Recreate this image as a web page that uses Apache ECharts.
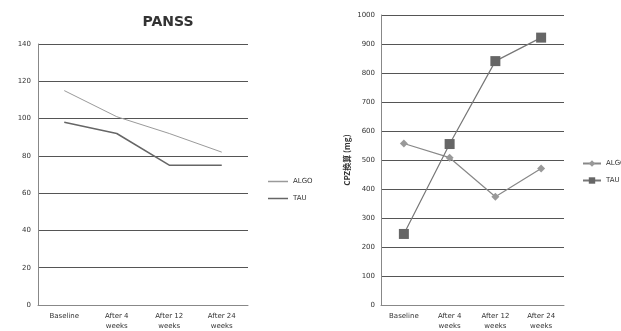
<!DOCTYPE html>
<html>
<head>
<meta charset="utf-8">
<script src="https://cdn.jsdelivr.net/npm/echarts@6/dist/echarts.min.js"></script>
<style>html,body{margin:0;padding:0;background:#fff}#c{width:621px;height:331px}</style>
</head>
<body>
<div id="c"></div>
<script>
var categories = ['Baseline', 'After 4\nweeks', 'After 12\nweeks', 'After 24\nweeks'];
var panssAlgo = [115, 101, 92, 82];
var panssTau = [98, 92, 75, 75];
var cpzAlgo = [557, 508, 373, 471];
var cpzTau = [245, 555, 841, 922];
var panssTicks = [0, 20, 40, 60, 80, 100, 120, 140];
var cpzTicks = [0, 100, 200, 300, 400, 500, 600, 700, 800, 900, 1000];

var font = 'DejaVu Sans';
var labelStyle = { fontSize: 7, color: '#333', fontFamily: font };
var chart = echarts.init(document.getElementById('c'));
chart.setOption({
  animation: false,
  backgroundColor: '#fff',
  title: {
    text: 'PANSS', left: 163, top: 10, textAlign: 'center',
    textStyle: { fontSize: 14, fontWeight: 'bold', color: '#333', fontFamily: font }
  },
  grid: [
    { left: 38, right: 373, top: 44, bottom: 26 },
    { left: 381, right: 57, top: 15, bottom: 26 }
  ],
  legend: [
    {
      data: ['ALGO', 'TAU'], orient: 'vertical', left: 263, top: 173,
      icon: 'rect', itemWidth: 20, itemHeight: 1.5, itemGap: 10,
      textStyle: { fontSize: 7, color: '#333', fontFamily: font }
    },
    {
      data: ['ALGO2', 'TAU2'], orient: 'vertical', left: 577, top: 155,
      itemWidth: 18, itemHeight: 8, itemGap: 10,
      formatter: function (n) { return n.replace('2', ''); },
      textStyle: { fontSize: 7, color: '#333', fontFamily: font }
    }
  ],
  xAxis: [
    {
      type: 'category', gridIndex: 0, data: categories, boundaryGap: true,
      axisLine: { lineStyle: { color: '#888' } }, axisTick: { show: false },
      axisLabel: Object.assign({ margin: 6, interval: 0, lineHeight: 10 }, labelStyle)
    },
    {
      type: 'category', gridIndex: 1, data: categories, boundaryGap: true,
      axisLine: { lineStyle: { color: '#888' } }, axisTick: { show: false },
      axisLabel: Object.assign({ margin: 6, interval: 0, lineHeight: 10 }, labelStyle)
    }
  ],
  yAxis: [
    {
      type: 'value', gridIndex: 0, min: panssTicks[0], max: panssTicks[panssTicks.length - 1], interval: 20,
      axisLine: { show: true, lineStyle: { color: '#888' } }, axisTick: { show: false },
      splitLine: { lineStyle: { color: '#555', width: 1 } },
      axisLabel: Object.assign({ margin: 7 }, labelStyle)
    },
    {
      type: 'value', gridIndex: 1, min: cpzTicks[0], max: cpzTicks[cpzTicks.length - 1], interval: 100,
      axisLine: { show: true, lineStyle: { color: '#888' } }, axisTick: { show: false },
      splitLine: { lineStyle: { color: '#555', width: 1 } },
      axisLabel: Object.assign({ margin: 6, formatter: function (v) { return String(v); } }, labelStyle),
      name: 'CPZ換算 (mg)', nameLocation: 'middle', nameGap: 30, nameRotate: 90,
      nameTextStyle: { fontSize: 8, fontWeight: 'bold', color: '#333', fontFamily: '"Noto Sans CJK JP", ' + font }
    }
  ],
  series: [
    {
      name: 'ALGO', type: 'line', xAxisIndex: 0, yAxisIndex: 0, data: panssAlgo,
      symbol: 'none', color: '#9a9a9a', lineStyle: { width: 1, color: '#9a9a9a' }
    },
    {
      name: 'TAU', type: 'line', xAxisIndex: 0, yAxisIndex: 0, data: panssTau,
      symbol: 'none', color: '#666', lineStyle: { width: 1.5, color: '#666' }
    },
    {
      name: 'ALGO2', type: 'line', xAxisIndex: 1, yAxisIndex: 1, data: cpzAlgo,
      symbol: 'diamond', symbolSize: 8, color: '#999',
      itemStyle: { color: '#999' }, lineStyle: { width: 1.2, color: '#888' }
    },
    {
      name: 'TAU2', type: 'line', xAxisIndex: 1, yAxisIndex: 1, data: cpzTau,
      symbol: 'rect', symbolSize: 10, color: '#666',
      itemStyle: { color: '#666' }, lineStyle: { width: 1.2, color: '#777' }
    }
  ]
});
</script>
</body>
</html>
